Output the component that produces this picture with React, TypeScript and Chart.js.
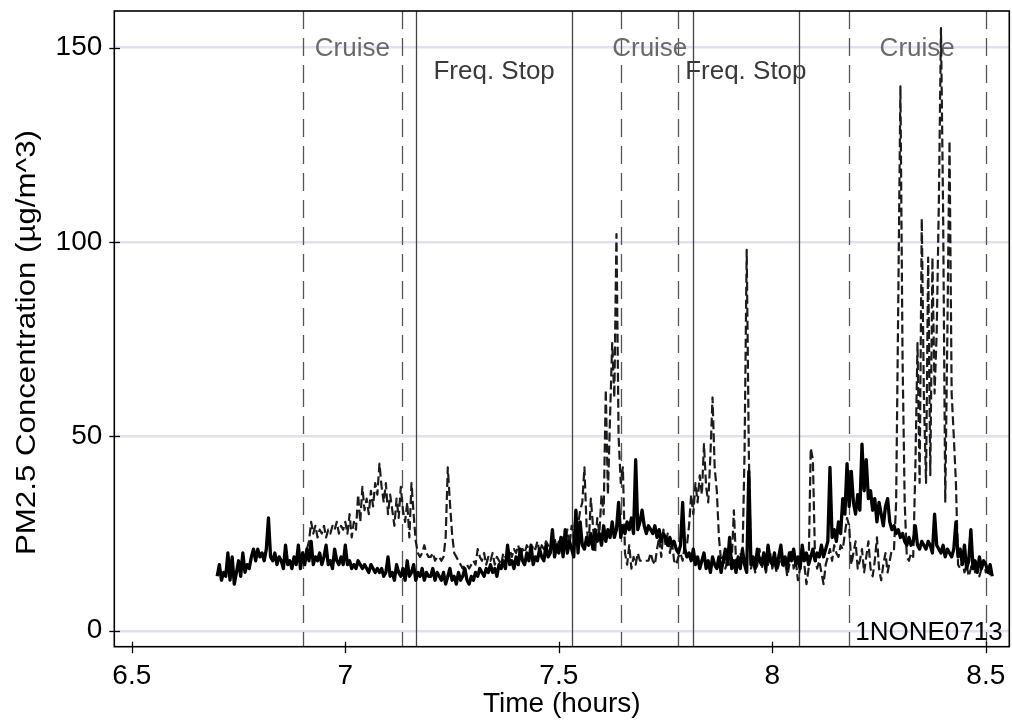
import { useEffect, useRef } from 'react';
import { Chart, registerables } from 'chart.js';

Chart.register(...registerables);

// ---- data ----
const sampleStep = 0.005; // hours between samples
const solidStart = 6.7;
const dashedStart = 6.91;

const solidValues = [
  14, 17, 13, 15, 14, 20, 13, 19, 12, 15, 18, 14, 20, 15, 17, 16, 19, 21, 18, 21,
  19, 20, 18, 21, 29, 19, 18, 20, 17, 19, 18, 16, 22, 17, 18, 16, 19, 17, 22, 16,
  20, 17, 21, 18, 23, 17, 19, 18, 20, 17, 19, 22, 17, 18, 16, 21, 18, 17, 19, 17,
  22, 17, 18, 16, 17, 16, 18, 17, 16, 17, 16, 15, 17, 16, 15, 16, 15, 16, 14, 15,
  19, 14, 15, 13, 17, 15, 14, 16, 13, 18, 14, 15, 17, 13, 15, 14, 16, 13, 15, 14,
  14, 16, 13, 15, 14, 13, 15, 12, 14, 16, 13, 14, 12, 15, 13, 14, 16, 13, 12, 14,
  13, 15, 14, 16, 15, 14, 16, 15, 17, 15, 16, 14, 17, 16, 18, 16, 22, 17, 18, 16,
  19, 17, 21, 18, 17, 20, 18, 22, 17, 19, 18, 21, 19, 18, 22, 19, 20, 26, 19, 22,
  20, 24, 19, 26, 20, 23, 21, 19, 31, 20, 28, 22, 21, 24, 22, 25, 21, 26, 23, 25,
  22, 27, 23, 26, 24, 28, 24, 26, 33, 24, 27, 25, 28, 26, 29, 25, 44, 26, 28, 31,
  27, 25, 27, 26, 25, 27, 24, 26, 23, 25, 24, 22, 24, 22, 23, 21, 20, 22, 33, 21,
  19, 20, 18, 21, 17, 19, 16, 18, 20, 16, 18, 15, 19, 17, 16, 19, 15, 18, 21, 17,
  24, 16, 18, 15, 19, 16, 21, 17, 15, 41, 17, 19, 16, 21, 18, 17, 20, 16, 22, 18,
  17, 20, 16, 19, 22, 17, 19, 16, 20, 18, 21, 17, 19, 16, 22, 18, 20, 17, 19, 21,
  18, 20, 19, 22, 19, 21, 23, 42, 24, 26, 23, 28, 25, 34, 30, 43, 32, 41, 33, 30,
  35, 31, 48, 36, 44, 34, 36, 31, 34, 28, 33, 30, 27, 32, 34, 28, 26, 27, 25, 26,
  24, 25, 23, 22, 24, 22, 23, 27, 22, 21, 23, 22, 21, 23, 22, 20, 30, 22, 21, 20,
  22, 19, 21, 20, 19, 21, 28, 19, 21, 17, 22, 16, 18, 26, 16, 18, 15, 19, 16, 18,
  17, 15, 17, 14,
];

const dashedValues = [
  21, 23, 28, 25, 27, 24, 26, 25, 27, 24, 26, 25, 27, 26, 28, 25, 27, 26,
  28, 25, 30, 24, 28, 26, 35, 28, 37, 31, 34, 30, 36, 32, 38, 35, 43, 37, 33, 38,
  30, 35, 31, 27, 34, 29, 37, 31, 28, 33, 24, 38, 30, 23, 20, 19, 20, 22, 20, 19,
  19, 20, 18, 19, 19, 18, 19, 24, 42, 33, 25, 20, 19, 18, 17, 16, 17, 17, 16, 17,
  18, 17, 21, 19, 18, 20, 17, 19, 18, 20, 17, 19, 18, 17, 20, 19, 20, 21, 19, 21,
  20, 22, 19, 21, 20, 22, 21, 20, 22, 21, 23, 20, 22, 21, 23, 22, 21, 22, 24, 21,
  23, 22, 24, 23, 26, 22, 27, 24, 31, 27, 31, 33, 42, 27, 22, 34, 27, 20, 29, 25,
  35, 30, 62, 35, 55, 74, 60, 102, 50, 38, 42, 20, 17, 22, 16, 19, 17, 20, 18, 18,
  18, 18, 18, 20, 18, 17, 21, 24, 19, 26, 22, 25, 20, 23, 18, 17, 19, 20, 18, 22,
  22, 27, 35, 30, 38, 33, 40, 35, 48, 37, 33, 45, 60, 42, 36, 24, 18, 19, 16, 18,
  17, 18, 31, 18, 16, 20, 18, 46, 98, 46, 16, 18, 15, 17, 21, 16, 18, 15, 17, 20,
  16, 18, 15, 17, 19, 16, 18, 14, 17, 21, 16, 18, 13, 16, 19, 17, 12, 16, 47, 44,
  19, 16, 18, 15, 12, 17, 19, 21, 18, 22, 20, 19, 22, 21, 25, 29, 27, 17, 20, 23,
  16, 18, 21, 15, 19, 23, 16, 14, 18, 24, 16, 13, 17, 20, 15, 18, 21, 21, 33, 85,
  140, 70, 33, 19, 18, 20, 19, 42, 74, 38, 106, 60, 38, 96, 40, 96, 61, 77, 110, 155,
  108, 33, 77, 126, 61, 50, 38, 17, 16, 18, 15, 17, 14, 16, 19, 15, 17, 14, 16, 18,
  15, 17, 14, 15,
];

// phase boundaries (hours)
const cruiseStarts = [6.9, 7.646, 8.179];
const cruiseEnds = [7.133, 7.78, 8.4995];
const stopStarts = [7.166, 7.814];
const stopEnds = [7.531, 8.062];

const xTickValues = [6.5, 7, 7.5, 8, 8.5];
const yTickValues = [0, 50, 100, 150];

const cruiseLabel = 'Cruise';
const stopLabel = 'Freq. Stop';
const runLabel = '1NONE0713';
const xTitle = 'Time (hours)';
const yTitle = 'PM2.5 Concentration (µg/m^3)';

const FONT = "'Liberation Sans', Arial, Helvetica, sans-serif";

const overlayPlugin = {
  id: 'overlay',
  beforeDatasetsDraw(chart: any) {
    const { ctx, chartArea: a, scales } = chart;
    const x = scales.x;
    const y = scales.y;
    ctx.save();
    ctx.beginPath();
    ctx.rect(a.left, a.top, a.right - a.left, a.bottom - a.top);
    ctx.clip();
    ctx.lineWidth = 1.3;
    // cruise boundaries (dashed)
    ctx.strokeStyle = '#555555';
    ctx.setLineDash([18, 9]);
    [...cruiseStarts, ...cruiseEnds].forEach((t) => {
      const px = Math.round(x.getPixelForValue(t)) + 0.5;
      ctx.beginPath();
      ctx.moveTo(px, a.top);
      ctx.lineTo(px, a.bottom);
      ctx.stroke();
    });
    // frequent stop boundaries (solid)
    ctx.setLineDash([]);
    ctx.strokeStyle = '#444444';
    [...stopStarts, ...stopEnds].forEach((t) => {
      const px = Math.round(x.getPixelForValue(t)) + 0.5;
      ctx.beginPath();
      ctx.moveTo(px, a.top);
      ctx.lineTo(px, a.bottom);
      ctx.stroke();
    });
    // phase labels
    ctx.font = `26px ${FONT}`;
    ctx.textAlign = 'center';
    ctx.textBaseline = 'middle';
    ctx.fillStyle = '#6a6a6a';
    cruiseStarts.forEach((s, i) => {
      const mid = (s + cruiseEnds[i]) / 2;
      ctx.fillText(cruiseLabel, x.getPixelForValue(mid), y.getPixelForValue(150) + 1.5);
    });
    ctx.fillStyle = '#3a3a3a';
    stopStarts.forEach((s, i) => {
      const mid = (s + stopEnds[i]) / 2;
      ctx.fillText(stopLabel, x.getPixelForValue(mid), y.getPixelForValue(144.2) + 1.5);
    });
    ctx.restore();
  },
  afterDatasetsDraw(chart: any) {
    const { ctx, chartArea: a, scales } = chart;
    const x = scales.x;
    const y = scales.y;
    ctx.save();
    // run id label
    ctx.font = `26px ${FONT}`;
    ctx.fillStyle = '#000000';
    ctx.textAlign = 'center';
    ctx.textBaseline = 'middle';
    ctx.fillText(runLabel, 929, y.getPixelForValue(0) + 2);
    // frame
    ctx.strokeStyle = '#000000';
    ctx.lineWidth = 1.6;
    ctx.strokeRect(a.left, a.top, a.right - a.left, a.bottom - a.top);
    // ticks crossing the axes
    ctx.lineWidth = 1.3;
    xTickValues.forEach((v) => {
      const px = Math.round(x.getPixelForValue(v)) + 0.5;
      ctx.beginPath();
      ctx.moveTo(px, a.bottom - 5);
      ctx.lineTo(px, a.bottom + 6.5);
      ctx.stroke();
    });
    yTickValues.forEach((v) => {
      const py = Math.round(y.getPixelForValue(v)) + 0.5;
      ctx.beginPath();
      ctx.moveTo(a.left - 5, py);
      ctx.lineTo(a.left + 5.7, py);
      ctx.stroke();
    });
    // axis titles
    ctx.fillStyle = '#000000';
    ctx.font = `28px ${FONT}`;
    ctx.textAlign = 'center';
    ctx.textBaseline = 'alphabetic';
    ctx.fillText(xTitle, (a.left + a.right) / 2, 711.5);
    ctx.save();
    ctx.translate(35, 342.5);
    ctx.rotate(-Math.PI / 2);
    const w = ctx.measureText(yTitle).width;
    ctx.scale(425 / w, 1);
    ctx.fillText(yTitle, 0, 0);
    ctx.restore();
    ctx.restore();
  },
};

export default function App() {
  const canvasRef = useRef<HTMLCanvasElement | null>(null);

  useEffect(() => {
    const canvas = canvasRef.current;
    if (!canvas) return;
    const solidPoints = solidValues.map((v, i) => ({
      x: +(solidStart + i * sampleStep).toFixed(3),
      y: v,
    }));
    const dashedPoints = dashedValues.map((v, i) => ({
      x: +(dashedStart + i * sampleStep).toFixed(3),
      y: v,
    }));

    const chart = new Chart(canvas, {
      type: 'line',
      data: {
        datasets: [
          {
            label: 'solid',
            data: solidPoints,
            borderColor: '#000000',
            borderWidth: 3.3,
            pointRadius: 0,
            tension: 0,
            borderJoinStyle: 'round',
            fill: false,
          },
          {
            label: 'dashed',
            data: dashedPoints,
            borderColor: '#1c1c1c',
            borderWidth: 2.2,
            borderDash: [9, 4],
            pointRadius: 0,
            tension: 0,
            borderJoinStyle: 'round',
            fill: false,
          },
        ],
      },
      options: {
        animation: false,
        responsive: false,
        devicePixelRatio: 1,
        layout: { padding: { top: 11, right: 2.7, left: 0, bottom: 0 } },
        plugins: {
          legend: { display: false },
          tooltip: { enabled: false },
        },
        scales: {
          x: {
            type: 'linear',
            min: 6.459,
            max: 8.555,
            grid: { display: false, drawTicks: false },
            border: { display: false },
            ticks: {
              color: '#000000',
              font: { size: 28, family: FONT },
              padding: 12.5,
              maxRotation: 0,
              autoSkip: false,
              callback: (v: any) => String(v),
            },
            afterBuildTicks: (s: any) => {
              s.ticks = xTickValues.map((v) => ({ value: v }));
            },
            afterFit: (s: any) => {
              s.height = 74.3;
              s.paddingLeft = 0;
              s.paddingRight = 0;
            },
          },
          y: {
            type: 'linear',
            min: -4.1,
            max: 159.4,
            grid: { color: '#dfe1ef', lineWidth: 2.5, drawTicks: false },
            border: { display: false },
            ticks: {
              color: '#000000',
              font: { size: 28, family: FONT },
              padding: 12,
              callback: (v: any) => String(v),
            },
            afterBuildTicks: (s: any) => {
              s.ticks = yTickValues.map((v) => ({ value: v }));
            },
            afterFit: (s: any) => {
              s.width = 114.3;
              s.paddingTop = 0;
              s.paddingBottom = 0;
            },
          },
        },
      },
      plugins: [overlayPlugin],
    });
    return () => chart.destroy();
  }, []);

  return (
    <div style={{ position: 'fixed', left: 0, top: 0, width: 1012, height: 721, background: '#ffffff' }}>
      <canvas ref={canvasRef} width={1012} height={721} style={{ display: 'block' }} />
    </div>
  );
}
